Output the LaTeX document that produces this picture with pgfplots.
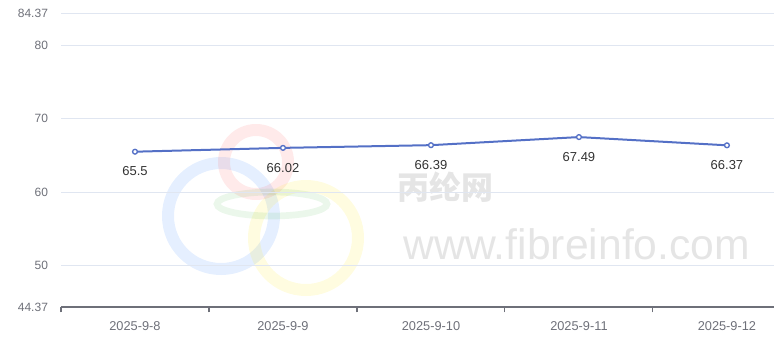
\documentclass[border=0pt]{standalone}
\usepackage{pgfplots}
\pgfplotsset{compat=1.18}
\usepackage{fontspec}
\setmainfont{Liberation Sans}
\newfontfamily\cjk{Noto Sans CJK SC}
\definecolor{lineblue}{HTML}{5470C6}
\definecolor{gridc}{HTML}{E0E6F1}
\definecolor{axisc}{HTML}{6E7079}
\definecolor{labc}{HTML}{6E7079}
\begin{document}
\begin{tikzpicture}
% watermark (faint), coordinates in px from bottom-left
\begin{scope}[x=0.75pt,y=0.75pt,line width=9pt]
\draw[blue!60!cyan, opacity=0.10] (221,128) circle (53);
\draw[red!80, opacity=0.10] (256,182) circle (32);
\draw[yellow!90!orange, opacity=0.12] (306,106) circle (52);
\draw[green!60!black, opacity=0.08, line width=5pt] (272,140) ellipse (55 and 12);
\node[font=\cjk\fontsize{24}{24}\selectfont\bfseries, text=black!10] at (445,157) {丙纶网};
\node[font=\fontsize{32}{32}\selectfont, text=black!10] at (577,100) {www.fibreinfo.com};
\end{scope}
\begin{axis}[
  at={(45.75pt,27.75pt)}, anchor=south west,
  scale only axis, width=534.75pt, height=220.5pt,
  xmin=-0.5, xmax=4.318, ymin=44.37, ymax=84.37,
  axis y line*=left, axis x line*=bottom,
  y axis line style={draw=none},
  x axis line style={draw=axisc, line width=0.8pt},
  ytick={44.37,50,60,70,80,84.37},
  yticklabels={44.37,50,60,70,80,84.37},
  ymajorgrids, grid style={gridc, line width=0.6pt},
  ytick style={draw=none},
  xtick={0,1,2,3,4},
  xticklabels={2025-9-8,2025-9-9,2025-9-10,2025-9-11,2025-9-12},
  major x tick style={draw=none},
  minor xtick={-0.5,0.5,1.5,2.5,3.5},
  minor x tick style={draw=axisc, line width=0.8pt},
  minor tick length=4pt, tick align=outside,
  tick label style={font=\fontsize{9}{9}\selectfont, text=labc},
  xticklabel style={font=\fontsize{9.6}{9.6}\selectfont, yshift=-3pt},
  yticklabel style={xshift=-2pt},
  clip=false,
]
\addplot[lineblue, line width=1.5pt, mark=*, mark size=1.8pt,
  mark options={fill=white, draw=lineblue, line width=1pt},
  nodes near coords, point meta=explicit symbolic,
  every node near coord/.style={font=\fontsize{9.75}{9.75}\selectfont, text=black!80, anchor=north, yshift=-7.5pt}]
  table[meta=label] {
  x y label
  0 65.5 65.5
  1 66.02 66.02
  2 66.39 66.39
  3 67.49 67.49
  4 66.37 66.37
  };
\end{axis}
\pgfresetboundingbox
\useasboundingbox (0,0) rectangle (580.5pt,258pt);
\end{tikzpicture}
\end{document}
